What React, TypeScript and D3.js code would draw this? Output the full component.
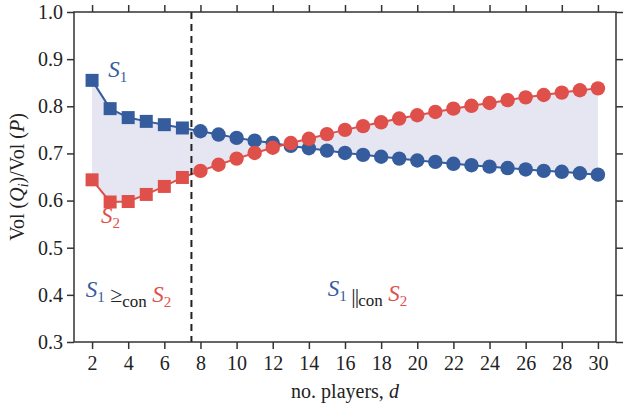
import React, { useEffect, useRef } from 'react';
import * as d3 from 'd3';

const players = d3.range(2, 31);
const s1Values = [0.855, 0.795, 0.776, 0.768, 0.761, 0.754, 0.747, 0.740, 0.733, 0.727, 0.722, 0.716, 0.711, 0.706, 0.701, 0.697, 0.693, 0.689, 0.685, 0.682, 0.678, 0.675, 0.672, 0.669, 0.666, 0.663, 0.661, 0.658, 0.655];
const s2Values = [0.644, 0.597, 0.598, 0.613, 0.630, 0.649, 0.663, 0.676, 0.689, 0.701, 0.712, 0.722, 0.731, 0.741, 0.750, 0.758, 0.766, 0.774, 0.781, 0.788, 0.795, 0.801, 0.807, 0.813, 0.819, 0.824, 0.829, 0.834, 0.838];
const xTicks = d3.range(2, 31, 2);
const yTicks = [0.3, 0.4, 0.5, 0.6, 0.7, 0.8, 0.9, 1.0];
const threshold = 7.5;

const BLUE = '#355c9d';
const RED = '#e0504a';
const FONT = '"Liberation Serif", "Times New Roman", serif';

const App = () => {
  const ref = useRef<SVGSVGElement>(null);

  useEffect(() => {
    const svg = d3.select(ref.current);
    svg.selectAll('*').remove();

    const margin = { top: 12, right: 9, bottom: 62, left: 74 };
    const width = 625 - margin.left - margin.right;
    const height = 404 - margin.top - margin.bottom;

    const g = svg.append('g').attr('transform', `translate(${margin.left},${margin.top})`);

    const x = d3.scaleLinear().domain([1, 31]).range([0, width]);
    const y = d3.scaleLinear().domain([0.3, 1.0]).range([height, 0]);

    const data = players.map((d, i) => ({ d, a: s1Values[i], b: s2Values[i] }));

    // shaded band between the two series
    g.append('path')
      .datum(data)
      .attr('fill', '#e6e6f3')
      .attr('d', d3.area<any>().x(p => x(p.d)).y0(p => y(p.a)).y1(p => y(p.b)));

    const series = [
      { key: 'a', color: BLUE },
      { key: 'b', color: RED },
    ];

    series.forEach(s => {
      g.append('path')
        .datum(data)
        .attr('fill', 'none')
        .attr('stroke', s.color)
        .attr('stroke-width', 2)
        .attr('d', d3.line<any>().x(p => x(p.d)).y(p => y(p[s.key])));

      g.selectAll(null)
        .data(data.filter(p => p.d < threshold))
        .enter()
        .append('rect')
        .attr('x', p => x(p.d) - 6.5)
        .attr('y', p => y(p[s.key]) - 6.5)
        .attr('width', 13)
        .attr('height', 13)
        .attr('fill', s.color);

      g.selectAll(null)
        .data(data.filter(p => p.d > threshold))
        .enter()
        .append('circle')
        .attr('cx', p => x(p.d))
        .attr('cy', p => y(p[s.key]))
        .attr('r', 7.2)
        .attr('fill', s.color);
    });

    // threshold line
    g.append('line')
      .attr('x1', x(threshold)).attr('x2', x(threshold))
      .attr('y1', 0).attr('y2', height)
      .attr('stroke', '#222')
      .attr('stroke-width', 2)
      .attr('stroke-dasharray', '7,5');

    // axes
    const styleAxis = (sel: any, labels: boolean) => {
      sel.select('.domain').remove();
      sel.selectAll('.tick line').attr('stroke', '#333').attr('stroke-width', 1.5);
      sel.selectAll('.tick text')
        .attr('font-family', FONT)
        .attr('font-size', 20)
        .attr('fill', '#222')
        .style('display', labels ? null : 'none');
    };

    g.append('g')
      .attr('transform', `translate(0,${height})`)
      .call(d3.axisBottom(x).tickValues(xTicks).tickSize(7).tickPadding(7).tickFormat(d3.format('d')))
      .call((s: any) => styleAxis(s, true));
    g.append('g')
      .call(d3.axisTop(x).tickValues(xTicks).tickSize(7))
      .call((s: any) => styleAxis(s, false));
    g.append('g')
      .call(d3.axisLeft(y).tickValues(yTicks).tickSize(7).tickPadding(4).tickFormat(d3.format('.1f')))
      .call((s: any) => styleAxis(s, true));
    g.append('g')
      .attr('transform', `translate(${width},0)`)
      .call(d3.axisRight(y).tickValues(yTicks).tickSize(7))
      .call((s: any) => styleAxis(s, false));

    g.append('rect')
      .attr('width', width)
      .attr('height', height)
      .attr('fill', 'none')
      .attr('stroke', '#333')
      .attr('stroke-width', 1.5);

    // axis titles
    const yt = svg.append('text')
      .attr('transform', `translate(24,${margin.top + height / 2}) rotate(-90)`)
      .attr('text-anchor', 'middle')
      .attr('font-family', FONT)
      .attr('font-size', 20)
      .attr('fill', '#222');
    yt.append('tspan').text('Vol (');
    yt.append('tspan').attr('font-style', 'italic').text('Q');
    yt.append('tspan').attr('font-style', 'italic').attr('font-size', 14).attr('dy', 4).text('i');
    yt.append('tspan').attr('dy', -4).text(')/Vol (');
    yt.append('tspan').attr('font-style', 'italic').text('P');
    yt.append('tspan').text(')');

    const xt = svg.append('text')
      .attr('x', margin.left + width / 2)
      .attr('y', 398)
      .attr('text-anchor', 'middle')
      .attr('font-family', FONT)
      .attr('font-size', 20)
      .attr('fill', '#222');
    xt.append('tspan').text('no. players, ');
    xt.append('tspan').attr('font-style', 'italic').text('d');

    // annotations
    const setLabel = (parent: any, color: string, sub: string) => {
      parent.append('tspan').attr('fill', color).attr('font-style', 'italic').attr('font-size', 23).text('S');
      parent.append('tspan').attr('fill', color).attr('font-size', 15).attr('dy', 5).text(sub);
      parent.append('tspan').attr('dy', -5).text('');
    };

    const s1 = g.append('text')
      .attr('x', x(2.9)).attr('y', y(0.862))
      .attr('font-family', FONT).attr('font-size', 22);
    setLabel(s1, BLUE, '1');

    const s2 = g.append('text')
      .attr('x', x(2.5)).attr('y', y(0.553))
      .attr('font-family', FONT).attr('font-size', 22);
    setLabel(s2, RED, '2');

    const dom = g.append('text')
      .attr('x', x(1.65)).attr('y', y(0.395))
      .attr('font-family', FONT).attr('font-size', 22).attr('fill', '#222');
    setLabel(dom, BLUE, '1');
    dom.append('tspan').text(' ≥');
    dom.append('tspan').attr('font-size', 17).attr('dy', 5).text('con');
    dom.append('tspan').attr('dy', -5).text(' ');
    setLabel(dom, RED, '2');

    const inc = g.append('text')
      .attr('x', x(15.05)).attr('y', y(0.397))
      .attr('font-family', FONT).attr('font-size', 22).attr('fill', '#222');
    setLabel(inc, BLUE, '1');
    inc.append('tspan').attr('dy', 2).attr('letter-spacing', -1).text('  ||');
    inc.append('tspan').attr('font-size', 17).attr('dy', 3).text('con');
    inc.append('tspan').attr('dy', -5).text(' ');
    setLabel(inc, RED, '2');
  }, []);

  return (
    <svg ref={ref} width={625} height={404} style={{ position: 'absolute', left: 0, top: 0, background: '#fff' }} />
  );
};

export default App;
